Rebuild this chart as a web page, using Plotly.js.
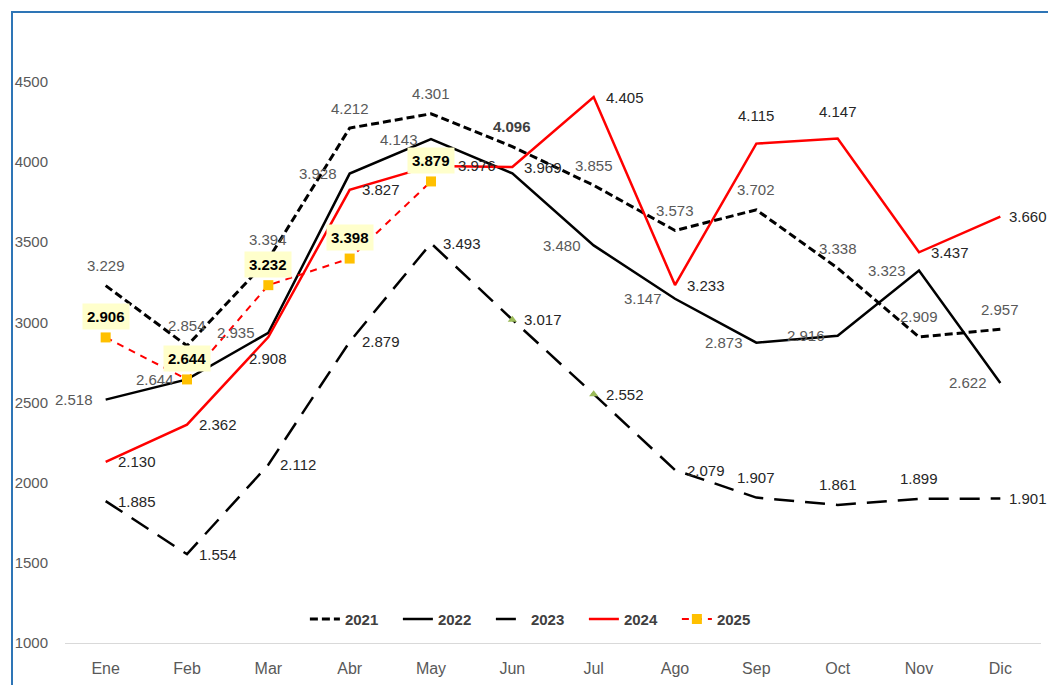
<!DOCTYPE html>
<html>
<head>
<meta charset="utf-8">
<script src="https://cdn.plot.ly/plotly-3.0.1.min.js"></script>
<style>
  html, body { margin: 0; padding: 0; background: #ffffff; overflow: hidden; }
  #chart { position: absolute; left: 0; top: 0; width: 1048px; height: 685px; }
  #frame { position: absolute; left: 11px; top: 11px; width: 1100px; height: 760px;
           border: 2px solid #2E75B6; pointer-events: none; }
</style>
</head>
<body>
<div id="chart"></div>
<div id="frame"></div>
<script>
// ---- data ----
const months = ['Ene','Feb','Mar','Abr','May','Jun','Jul','Ago','Sep','Oct','Nov','Dic'];
const y2021 = [3229, 2854, 3394, 4212, 4301, 4096, 3855, 3573, 3702, 3338, 2909, 2957];
const y2022 = [2518, 2644, 2935, 3928, 4143, 3929, 3480, 3147, 2873, 2916, 3323, 2622];
const y2023 = [1885, 1554, 2112, 2879, 3493, 3017, 2552, 2079, 1907, 1861, 1899, 1901];
const y2024 = [2130, 2362, 2908, 3827, 3976, 3969, 4405, 3233, 4115, 4147, 3437, 3660];
const y2025 = [2906, 2644, 3232, 3398, 3879];
const months2025 = ['Ene','Feb','Mar','Abr','May'];
const markedMonths2023 = ['Jun','Jul'];
const yTicks = [1000, 1500, 2000, 2500, 3000, 3500, 4000, 4500];
const series = ['2021','2022','2023','2024','2025'];

// label placement: T = above, L = left, R = right, B = below, '' = no label
const pos2021 = ['T','T','T','T','T','T','T','T','T','T','T','T'];
const pos2022 = ['L','L','L','L','L','','L','L','L','L','L','L'];
const pos2023 = ['R','R','R','R','R','R','R','R','T','T','T','R'];
const pos2024 = ['R','R','B','R','R','R','R','R','T','T','R','R'];

const fmt = v => (v/1000).toFixed(3);
const FONT = '"Liberation Sans", Arial, sans-serif';

// label offsets (px); a few labels sit a bit further away in the reference
const OFF = {T: 20, L: 12, R: 11, B: 21};
const extra = {
  '2024-4': {dx: 15}, '2024-8': {dy: 8}, '2024-9': {dy: 7},
  '2024-11': {dx: -3}, '2023-11': {dx: -3}
};

function labels(name, vals, pos, color, boldIdx) {
  const out = [];
  vals.forEach((v, i) => {
    const p = pos[i];
    if (!p) return;
    const e = extra[name + '-' + i] || {};
    let a = {x: months[i], y: v, xref: 'x', yref: 'y', showarrow: false,
             text: (i === boldIdx ? '<b>' + fmt(v) + '</b>' : fmt(v)),
             font: {family: FONT, size: 15, color: (i === boldIdx ? '#404040' : color)},
             xanchor: 'center', yanchor: 'middle', xshift: 0, yshift: 0, borderpad: 0};
    if (p === 'T') a.yshift = OFF.T;
    if (p === 'B') a.yshift = -OFF.B;
    if (p === 'L') { a.xanchor = 'right'; a.xshift = -OFF.L; }
    if (p === 'R') { a.xanchor = 'left'; a.xshift = OFF.R; }
    a.xshift += (e.dx || 0);
    a.yshift += (e.dy || 0);
    out.push(a);
  });
  return out;
}

const t2021 = {
  x: months, y: y2021, name: series[0], type: 'scatter', mode: 'lines',
  line: {color: '#000000', width: 3, dash: '8px,4px'}, hoverinfo: 'skip'
};
const t2022 = {
  x: months, y: y2022, name: series[1], type: 'scatter', mode: 'lines',
  line: {color: '#000000', width: 2.5}, hoverinfo: 'skip'
};
const t2023 = {
  x: months, y: y2023, name: series[2], type: 'scatter', mode: 'lines',
  line: {color: '#000000', width: 2.5, dash: '20px,11px'}, hoverinfo: 'skip'
};
const t2023m = {
  x: markedMonths2023, y: markedMonths2023.map(m => y2023[months.indexOf(m)]),
  type: 'scatter', mode: 'markers', showlegend: false,
  marker: {symbol: 'triangle-up', size: 8, color: '#9BBB59'}, hoverinfo: 'skip'
};
const t2024 = {
  x: months, y: y2024, name: series[3], type: 'scatter', mode: 'lines',
  line: {color: '#FF0000', width: 2.5}, hoverinfo: 'skip'
};
const t2025 = {
  x: months2025, y: y2025, name: series[4], type: 'scatter', mode: 'lines+markers',
  line: {color: '#FF0000', width: 2, dash: '7px,6px'},
  marker: {symbol: 'square', size: 10, color: '#FFC000'},
  cliponaxis: false, hoverinfo: 'skip'
};

const ann2025 = y2025.map((v,i) => ({
  x: months2025[i], y: v, xref: 'x', yref: 'y',
  text: '<b>' + fmt(v) + '</b>', showarrow: false,
  yshift: 21, bgcolor: '#FFFFCC', borderpad: 4,
  font: {family: FONT, size: 15, color: '#000000'}
}));

const annotations = []
  .concat(labels('2021', y2021, pos2021, '#595959', 5))
  .concat(labels('2022', y2022, pos2022, '#595959', -1))
  .concat(labels('2023', y2023, pos2023, '#262626', -1))
  .concat(labels('2024', y2024, pos2024, '#262626', -1))
  .concat(ann2025);

const layout = {
  width: 1048, height: 685,
  margin: {l: 65, r: 7, t: 20, b: 42},
  paper_bgcolor: '#ffffff', plot_bgcolor: '#ffffff',
  showlegend: true,
  legend: {orientation: 'h', x: 0.484, xanchor: 'center', y: 0.038, yanchor: 'middle',
           font: {family: FONT, size: 15, color: '#404040', weight: 'bold'},
           entrywidth: 48, entrywidthmode: 'pixels',
           bgcolor: 'rgba(0,0,0,0)', traceorder: 'normal'},
  xaxis: {type: 'category', range: [-0.5, 11.5], showgrid: false, zeroline: false,
          showline: true, linecolor: '#D9D9D9', linewidth: 1, ticks: '',
          tickfont: {family: FONT, size: 16, color: '#595959'}, ticklabelstandoff: 11,
          fixedrange: true},
  yaxis: {range: [1000, 4886], tickmode: 'array', tickvals: yTicks, ticktext: yTicks.map(String),
          showgrid: false, zeroline: false, showline: false, ticks: '',
          tickfont: {family: FONT, size: 15, color: '#595959'}, ticklabelstandoff: 16,
          fixedrange: true},
  annotations: annotations
};

Plotly.newPlot('chart', [t2021, t2022, t2023, t2024, t2025, t2023m], layout,
  {displayModeBar: false, staticPlot: true});
</script>
</body>
</html>
